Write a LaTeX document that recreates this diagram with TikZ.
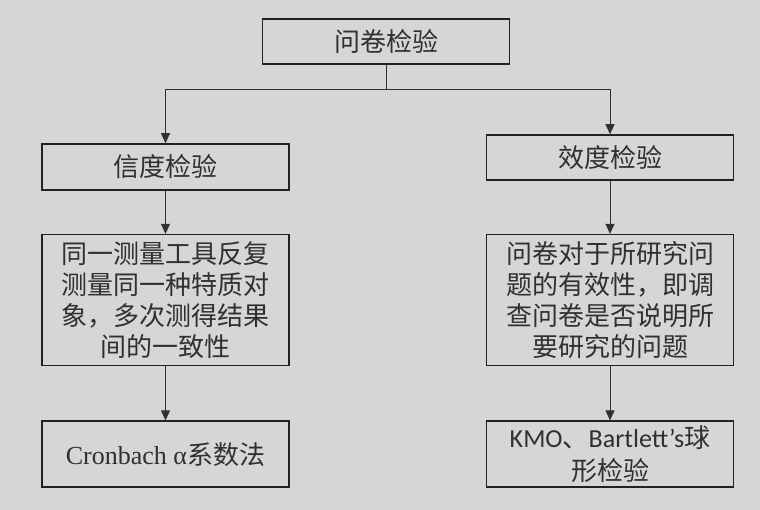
\documentclass[tikz,border=0pt]{standalone}
\usepackage{fontspec}
\setmainfont{Liberation Serif}
\newfontfamily\cjk{Noto Sans CJK SC}
\newfontfamily\carl{Carlito}
\usetikzlibrary{positioning, arrows.meta}
\definecolor{paper}{RGB}{214,214,214}
\definecolor{ink}{RGB}{48,48,48}
\tikzset{
    box/.style={draw=ink!70!black, line width=1.6pt, fill=paper, text=ink,
        align=center, inner sep=0pt, minimum width=247pt,
        font=\cjk\fontsize{26}{31}\selectfont},
    link/.style={draw=ink, line width=0.9pt},
    tip/.style={-{Triangle[width=9pt,length=10pt]}},
}

\begin{document}
\begin{tikzpicture}[x=1pt, y=-1pt]
    \useasboundingbox[fill=paper] (0,0) rectangle (760,510);

    \node[box, minimum height=45pt] (survey) at (386,41.5) {问卷检验};

    % reliability branch
    \node[box, minimum height=46pt] (rel) at (165.5,167) {信度检验};
    \node[box, minimum height=131pt, below=43pt of rel] (reldesc)
        {同一测量工具反复\\测量同一种特质对\\象，多次测得结果\\间的一致性};
    \node[box, minimum height=66pt, below=54pt of reldesc] (alpha)
        {{\rmfamily Cronbach α}系数法};

    % validity branch
    \node[box, minimum height=45pt] (val) at (610,157.5) {效度检验};
    \node[box, minimum height=131pt, below=53pt of val] (valdesc)
        {问卷对于所研究问\\题的有效性，即调\\查问卷是否说明所\\要研究的问题};
    \node[box, minimum height=66pt, below=54pt of valdesc,
        font=\cjk\fontsize{26}{33}\selectfont] (kmo)
        {{\carl KMO}、{\carl Bartlett’s}球\\形检验};

    \coordinate (split) at ([yshift=-25pt]survey.south);
    \draw[link] (survey.south) -- (split);
    \draw[link, tip] (split) -| (rel.north);
    \draw[link, tip] (split) -| (val.north);
    \draw[link, tip] (rel) -- (reldesc);
    \draw[link, tip] (reldesc) -- (alpha);
    \draw[link, tip] (val) -- (valdesc);
    \draw[link, tip] (valdesc) -- (kmo);
\end{tikzpicture}
\end{document}
